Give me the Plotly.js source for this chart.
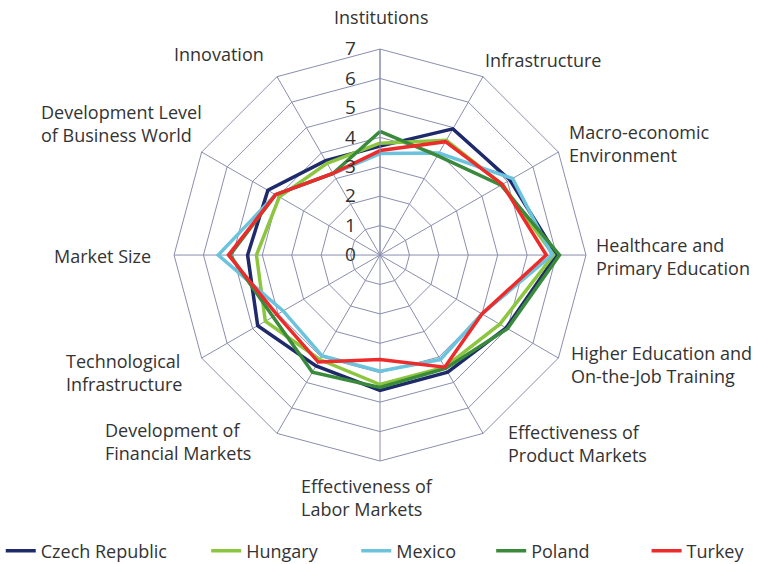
<!DOCTYPE html>
<html>
<head>
<meta charset="utf-8">
<script src="https://cdn.plot.ly/plotly-3.0.1.min.js"></script>
<style>
  body { margin: 0; background: #fff; }
  #chart { width: 758px; height: 564px; }
</style>
</head>
<body>
<div id="chart"></div>
<script>
const categories = [
  "Institutions",
  "Infrastructure",
  "Macro-economic<br>Environment",
  "Healthcare and<br>Primary Education",
  "Higher Education and<br>On-the-Job Training",
  "Effectiveness of<br>Product Markets",
  "Effectiveness of<br>Labor Markets",
  "Development of<br>Financial Markets",
  "Technological<br>Infrastructure",
  "Market Size",
  "Development Level<br>of Business World",
  "Innovation",
];

const czech = [3.7, 4.95, 5.1, 6.0, 4.95, 4.6, 4.6, 4.35, 4.8, 4.5, 4.4, 3.7];
const hungary = [3.8, 4.5, 4.8, 5.9, 4.7, 4.4, 4.4, 4.1, 4.5, 4.2, 3.95, 3.6];
const mexico = [3.45, 4.0, 5.2, 5.85, 4.0, 4.1, 3.95, 3.95, 3.8, 5.5, 4.1, 3.2];
const poland = [4.2, 3.9, 4.75, 6.1, 5.0, 4.45, 4.5, 4.6, 4.2, 5.1, 4.1, 3.2];
const turkey = [3.55, 4.45, 4.8, 5.65, 4.0, 4.4, 3.55, 4.2, 4.05, 5.15, 4.1, 3.2];

const gridColor = "#8a8eae";

// where each category label sits (left edge / vertical middle, in px),
// Excel puts them a bit irregularly so they are placed by hand
const labelPos = [
  [333, 17], [484, 60], [568, 144], [595, 256], [570, 364], [507, 443],
  [300, 497], [104, 441], [65, 372], [53, 256], [40, 124], [173, 54],
];

// close the polygon by repeating the first point
function makeTrace(name, values, color, legendId) {
  return {
    type: "scatterpolar",
    mode: "lines",
    name: name,
    legend: legendId,
    r: values.concat([values[0]]),
    theta: categories.concat([categories[0]]),
    line: { color: color, width: 3.5 },
  };
}

var data = [
  makeTrace("Czech Republic", czech, "#1e2a6a", "legend"),
  makeTrace("Hungary", hungary, "#8cc63f", "legend2"),
  makeTrace("Mexico", mexico, "#6cc3dd", "legend3"),
  makeTrace("Poland", poland, "#3a8a3c", "legend4"),
  makeTrace("Turkey", turkey, "#ee2b2b", "legend5"),
];

// one legend per entry so the spacing can follow the original
function legendAt(x) {
  return {
    orientation: "h",
    x: x,
    xanchor: "left",
    y: 0.023,
    yanchor: "middle",
    font: { size: 18, color: "#333" },
    itemwidth: 30,
    bgcolor: "rgba(0,0,0,0)",
  };
}

var annotations = categories.map(function (c, i) {
  return {
    text: c,
    xref: "paper",
    yref: "paper",
    x: labelPos[i][0] / 758,
    y: 1 - labelPos[i][1] / 564,
    xanchor: "left",
    yanchor: "middle",
    align: "left",
    showarrow: false,
    borderpad: 0,
    font: { size: 18, color: "#333" },
  };
});

var layout = {
  width: 758,
  height: 564,
  margin: { t: 0, b: 0, l: 0, r: 0, autoexpand: false },
  paper_bgcolor: "#fff",
  font: { family: "Open Sans, Noto Sans, sans-serif", size: 18, color: "#333" },
  showlegend: true,
  legend: legendAt(0.001),
  legend2: legendAt(0.272),
  legend3: legendAt(0.47),
  legend4: legendAt(0.648),
  legend5: legendAt(0.853),
  annotations: annotations,
  polar: {
    domain: { x: [0.2296, 0.7731], y: [0.1826, 0.913] },
    gridshape: "linear",
    bgcolor: "#fff",
    radialaxis: {
      range: [0, 7],
      dtick: 1,
      angle: 90,
      side: "counterclockwise",
      tickangle: 90,
      showline: true,
      linecolor: gridColor,
      gridcolor: gridColor,
      ticks: "outside",
      ticklen: 17,
      tickcolor: "rgba(0,0,0,0)",
      tickfont: { size: 19, color: "#333" },
    },
    angularaxis: {
      rotation: 90,
      direction: "clockwise",
      linecolor: gridColor,
      gridcolor: gridColor,
      ticks: "",
      showticklabels: false,
    },
  },
};

Plotly.newPlot("chart", data, layout, { displayModeBar: false });
</script>
</body>
</html>
